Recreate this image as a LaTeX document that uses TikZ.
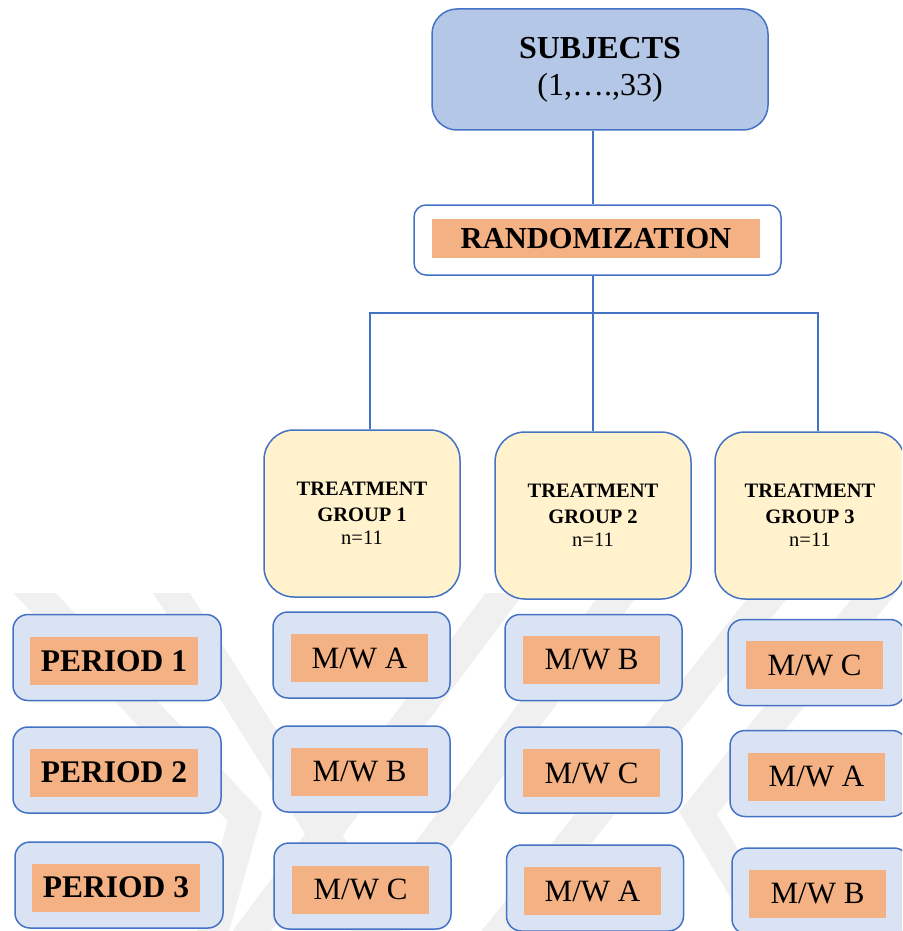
\documentclass[tikz,border=0pt]{standalone}
\usepackage{fontspec}
\setmainfont{Liberation Serif}
\definecolor{bdr}{HTML}{4472C4}
\definecolor{subjfill}{HTML}{B4C7E7}
\definecolor{tgfill}{HTML}{FFF2CC}
\definecolor{lblue}{HTML}{DAE3F3}
\definecolor{orng}{HTML}{F4B183}
\definecolor{wmark}{HTML}{F0F0F0}
\begin{document}
\begin{tikzpicture}[x=1pt,y=-1pt,
  conn/.style={draw=bdr, line width=2.5pt},
  bigbox/.style={draw=bdr, line width=1.5pt, inner sep=0pt},
  cellbox/.style={draw=bdr, line width=1.5pt, fill=lblue, rounded corners=15pt,
    minimum width=177pt, minimum height=86pt, inner sep=0pt},
  perbox/.style={cellbox, minimum width=208pt},
  tag/.style={fill=orng, minimum width=137pt, minimum height=48pt, inner sep=0pt,
    font=\fontsize{31}{31}\selectfont},
  ptag/.style={tag, minimum width=168pt, font=\fontsize{31.5}{32}\selectfont\bfseries},
  tgbox/.style={bigbox, fill=tgfill, rounded corners=30pt, minimum height=167pt,
    align=center, font=\fontsize{20.5}{26}\selectfont},
  band/.style={draw=wmark, line width=31pt, line join=miter}
]
\useasboundingbox (0,0) rectangle (902,931);
\clip (0,0) rectangle (902,931);

% watermark
\begin{scope}
  \clip (0,593) rectangle (902,931);
  \draw[band] (13,570) -- (245,817) -- (205,960);
  \draw[band] (157,570) -- (403,960);
  \draw[band] (522,570) -- (245,940);
  \draw[band] (637,570) -- (362,940);
  \draw[band] (790,570) -- (494,940);
  \draw[band] (895,570) -- (698,813) -- (780,950);
\end{scope}

% top
\node[bigbox, fill=subjfill, rounded corners=25pt, minimum width=336pt, minimum height=121pt,
  align=center, font=\fontsize{32}{37}\selectfont] (subj) at (600,69.5)
  {\textbf{SUBJECTS}\\(1,….,33)};
\node[bigbox, fill=white, rounded corners=12pt, minimum width=367pt, minimum height=70pt] (rand) at (597.5,240) {};
\node[fill=orng, minimum width=328pt, minimum height=39pt, inner sep=0pt,
  font=\fontsize{30.5}{31}\selectfont\bfseries] (randt) at (596,238.5) {RANDOMIZATION};

% treatment groups
\node[tgbox, minimum width=196pt] (tg1) at (362,513.5)
  {\textbf{TREATMENT}\\\textbf{GROUP 1}\\[-3pt]n=11};
\node[tgbox, minimum width=196pt] (tg2) at (593,515.5)
  {\textbf{TREATMENT}\\\textbf{GROUP 2}\\[-3pt]n=11};
\node[tgbox, minimum width=190pt] (tg3) at (810,515.5)
  {\textbf{TREATMENT}\\\textbf{GROUP 3}\\[-3pt]n=11};

% connectors
\coordinate (bar) at (594,313);
\draw[conn] (subj.south -| tg2.north) -- (rand.north -| tg2.north);
\draw[conn] (rand.south -| tg2.north) -- (tg2.north);
\draw[conn] ([xshift=8pt]tg1.north) |- (bar) -| ([xshift=8pt]tg3.north);

% periods
\node[perbox] (p1) at (117,657.5) {};
\node[ptag] (p1t) at (114,661) {PERIOD 1};
\node[perbox] (p2) at (117,770) {};
\node[ptag] (p2t) at (114,772.5) {PERIOD 2};
\node[perbox] (p3) at (119,885) {};
\node[ptag] (p3t) at (116,887.5) {PERIOD 3};

% column 1
\node[cellbox] (a1) at (361.5,655) {};
\node[tag] (a1t) at (359.5,658) {M/W A};
\node[cellbox] (a2) at (361.5,769) {};
\node[tag] (a2t) at (359.5,772) {M/W B};
\node[cellbox] (a3) at (362.5,886) {};
\node[tag] (a3t) at (360.5,889.5) {M/W C};

% column 2
\node[cellbox] (b1) at (593.5,657.5) {};
\node[tag] (b1t) at (591.5,660) {M/W B};
\node[cellbox] (b2) at (593.5,770) {};
\node[tag] (b2t) at (591.5,773) {M/W C};
\node[cellbox] (b3) at (595,888) {};
\node[tag] (b3t) at (592.5,891) {M/W A};

% column 3
\node[cellbox] (c1) at (816.5,662.5) {};
\node[tag] (c1t) at (814.5,665) {M/W C};
\node[cellbox] (c2) at (818.5,773.5) {};
\node[tag] (c2t) at (816.5,776.5) {M/W A};
\node[cellbox] (c3) at (820.5,891) {};
\node[tag] (c3t) at (817.5,894) {M/W B};
\end{tikzpicture}
\end{document}
